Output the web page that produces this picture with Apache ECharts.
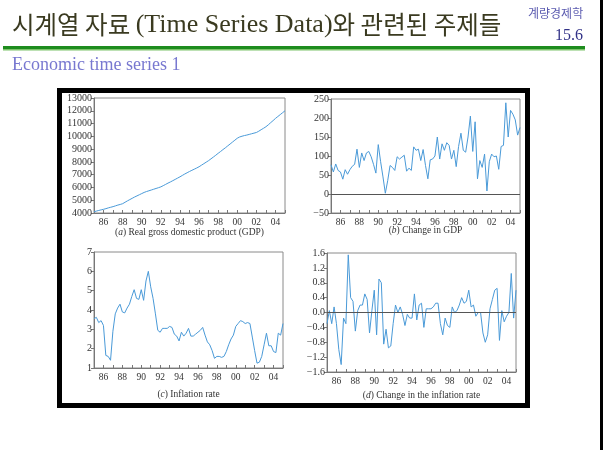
<!DOCTYPE html>
<html>
<head>
<meta charset="utf-8">
<script src="https://cdn.jsdelivr.net/npm/echarts@6/dist/echarts.min.js"></script>
<style>
  html, body { margin: 0; padding: 0; background: #fff; }
  #main { width: 605px; height: 450px; }
</style>
</head>
<body>
<div id="main"></div>
<script>
// quarters 1985Q1 .. 2005Q1
var quarters = [];
for (var yr = 1985; yr <= 2005; yr++) {
  for (var q = 1; q <= 4; q++) {
    if (yr === 2005 && q > 1) break;
    quarters.push(yr + 'Q' + q);
  }
}

// (a) GDP
var gdp = [
  4100, 4150, 4200, 4245, 4290, 4340, 4400, 4450, 4500, 4560, 4620, 4670,
  4730, 4840, 4950, 5050, 5150, 5250, 5340, 5430, 5520, 5610, 5680, 5740,
  5800, 5860, 5920, 5980, 6045, 6140, 6240, 6340, 6430, 6530, 6630, 6730,
  6830, 6940, 7050, 7150, 7250, 7340, 7430, 7520, 7620, 7740, 7860, 7980,
  8100, 8240, 8380, 8520, 8670, 8810, 8960, 9100, 9250, 9400, 9550, 9700,
  9850, 9950, 10010, 10060, 10100, 10150, 10200, 10250, 10300, 10400, 10520, 10630,
  10750, 10900, 11070, 11230, 11400, 11550, 11700, 11850, 12000
];
// (b) change in GDP
var gdpChange = [
  77, 58, 79, 62, 58, 39, 64, 52, 64, 73, 78, 118,
  70, 108, 88, 108, 112, 98, 78, 55, 130, 85, 45, 2,
  35, 75, 70, 62, 98, 92, 97, 102, 60, 68, 62, 124,
  115, 118, 88, 117, 75, 40, 90, 92, 100, 150, 92, 132,
  115, 135, 128, 92, 115, 72, 125, 160, 115, 110, 150, 205,
  112, 190, 40, 88, 70, 105, 8, 85, 105, 98, 100, 65,
  125, 128, 240, 150, 220, 210, 195, 155, 175
];
// (c) inflation rate
var inflation = [
  3.55, 3.62, 3.35, 3.45, 3.2, 1.65, 1.6, 1.4, 2.9, 3.8, 4.1, 4.3,
  3.9, 3.85, 4.1, 4.3, 4.7, 5.05, 4.6, 4.55, 5.05, 4.5, 5.5, 6.0,
  5.2, 4.6, 3.8, 2.95, 2.85, 3.05, 3.05, 3.05, 3.15, 3.1, 2.75, 2.65,
  2.4, 2.85, 2.65, 2.8, 3.05, 2.65, 2.65, 2.75, 2.85, 2.95, 3.1, 2.7,
  2.35, 2.2, 1.9, 1.5, 1.6, 1.6, 1.55, 1.6, 1.85, 2.2, 2.5, 2.7,
  3.15, 3.3, 3.45, 3.4, 3.3, 3.35, 3.3, 2.6, 1.9, 1.25, 1.3, 1.6,
  2.2, 2.8, 2.15, 2.15, 1.85, 1.8, 2.8, 2.7, 3.3
];
// (d) change in the inflation rate
var inflationChange = [
  -0.3, 0.05, -0.3, 0.15, -0.3, -1.0, -1.4, -0.15, -0.3, 1.55, 0.4, 0.3,
  -0.5, 0.05, 0.2, 0.2, 0.5, 0.35, -0.55, 0.05, 0.6, -0.6, 0.9, 0.8,
  -0.85, -0.45, -0.95, -0.9, -0.3, 0.2, 0.0, 0.15, -0.05, -0.35, -0.05, -0.15,
  -0.15, 0.5, -0.2, 0.2, 0.25, -0.4, 0.1, 0.1, 0.1, 0.15, 0.25, 0.25,
  -0.3, -0.6, -0.15, -0.35, -0.4, 0.15, 0.0, 0.05, 0.2, 0.4, 0.25, 0.3,
  0.6, 0.15, 0.2, -0.1, 0.0, 0.0, -0.55, -0.8, -0.6, 0.1, 0.35, 0.6,
  0.65, -0.75, 0.05, -0.25, -0.1, 0.0, 1.05, -0.15, 0.6
];

var captions = [
  '({i|a}) Real gross domestic product (GDP)',
  '({i|b}) Change in GDP',
  '({i|c}) Inflation rate',
  '({i|d}) Change in the inflation rate'
];

var serif = '"Liberation Serif", "Times New Roman", serif';
var lineColor = '#4a9ad8';
var frameColor = '#777';

var grids = [
  { left: 94, top: 98, width: 191, height: 115 },
  { left: 331, top: 99, width: 189, height: 114 },
  { left: 94, top: 252, width: 189, height: 116 },
  { left: 327, top: 253, width: 189, height: 119 }
];
grids.forEach(function (g) {
  g.show = true;
  g.borderColor = '#8a8a8a';
  g.borderWidth = 1;
  g.backgroundColor = 'transparent';
});

function makeX(gi) {
  return {
    type: 'category', gridIndex: gi, data: quarters, boundaryGap: false,
    axisLine: { onZero: false, lineStyle: { color: frameColor } },
    axisTick: { inside: true, length: 3, lineStyle: { color: frameColor },
      interval: function (idx) { return idx % 4 === 0; } },
    axisLabel: {
      interval: function (idx) { return idx % 8 === 4; },
      formatter: function (v) { return v.slice(2, 4); },
      fontFamily: serif, fontSize: 9.5, color: '#333', margin: 4
    },
    splitLine: { show: false }
  };
}

function makeY(gi, min, max, step, fmt) {
  return {
    type: 'value', gridIndex: gi, min: min, max: max, interval: step,
    axisLine: { show: true, lineStyle: { color: frameColor } },
    axisTick: { show: true, length: 3, lineStyle: { color: frameColor } },
    axisLabel: { fontFamily: serif, fontSize: 10, color: '#333', margin: 2, formatter: fmt },
    splitLine: { show: false }
  };
}

function plain(v) { return String(v).replace('-', '\u2212'); }

function makeSeries(gi, data, zero) {
  var s = {
    type: 'line', xAxisIndex: gi, yAxisIndex: gi, data: data,
    showSymbol: false, symbol: 'none',
    lineStyle: { color: lineColor, width: 1 },
    itemStyle: { color: lineColor }
  };
  if (zero) {
    s.markLine = {
      silent: true, symbol: 'none', label: { show: false },
      lineStyle: { color: '#555', width: 1, type: 'solid' },
      data: [{ yAxis: 0 }]
    };
  }
  return s;
}

var captionPos = [[189.5, 227], [425.5, 225], [188.5, 389], [421.5, 390]];
var titles = captions.map(function (c, i) {
  return {
    text: c, left: captionPos[i][0], top: captionPos[i][1], textAlign: 'center', padding: 0,
    textStyle: { fontFamily: serif, fontSize: 9.5, fontWeight: 'normal', color: '#333',
      rich: { i: { fontFamily: serif, fontSize: 9.5, fontStyle: 'italic', fontWeight: 'normal', color: '#333' } } }
  };
});

// header texts
titles.push({
  text: '{k|시계열 자료 }{e|(Time Series Data)}{k|와 관련된 주제들}',
  left: 12, top: 12, padding: 0,
  textStyle: {
    fontWeight: 'normal',
    rich: {
      k: { fontFamily: '"Noto Sans CJK KR"', fontSize: 24.5, fontWeight: 'normal', color: '#3a3a20' },
      e: { fontFamily: serif, fontSize: 26, fontWeight: 'normal', color: '#3a3a20' }
    }
  }
});
titles.push({
  text: '계량경제학', left: 528, top: 7, padding: 0,
  textStyle: { fontFamily: '"Noto Sans CJK KR"', fontSize: 12, fontWeight: 'normal', color: '#5b5bb0' }
});
titles.push({
  text: '15.6', left: 555, top: 28, padding: 0,
  textStyle: { fontFamily: serif, fontSize: 16, fontWeight: 'normal', color: '#333388' }
});
titles.push({
  text: 'Economic time series 1', left: 12, top: 56, padding: 0,
  textStyle: { fontFamily: serif, fontSize: 18, fontWeight: 'normal', color: '#7878d0' }
});

var chart = echarts.init(document.getElementById('main'));
chart.setOption({
  animation: false,
  backgroundColor: '#fff',
  title: titles,
  grid: grids,
  xAxis: [makeX(0), makeX(1), makeX(2), makeX(3)],
  yAxis: [
    makeY(0, 4000, 13000, 1000, plain),
    makeY(1, -50, 250, 50, plain),
    makeY(2, 1, 7, 1, plain),
    makeY(3, -1.6, 1.6, 0.4, function (v) { return plain(v.toFixed(1)); })
  ],
  series: [
    makeSeries(0, gdp, false),
    makeSeries(1, gdpChange, true),
    makeSeries(2, inflation, false),
    makeSeries(3, inflationChange, true)
  ],
  graphic: [
    // green rule under the heading
    { type: 'rect', shape: { x: 3, y: 46, width: 582, height: 3 }, style: { fill: '#1e8c1e' } },
    { type: 'rect', shape: { x: 3, y: 49, width: 582, height: 1.5 }, style: { fill: '#7cc46a' } },
    // right page edge
    { type: 'rect', shape: { x: 600, y: 0, width: 3, height: 450 }, style: { fill: '#000' } },
    // black frame round the four panels
    { type: 'rect', shape: { x: 59.5, y: 90.5, width: 468, height: 315 },
      style: { fill: 'none', stroke: '#000', lineWidth: 5 } }
  ]
});
</script>
</body>
</html>
